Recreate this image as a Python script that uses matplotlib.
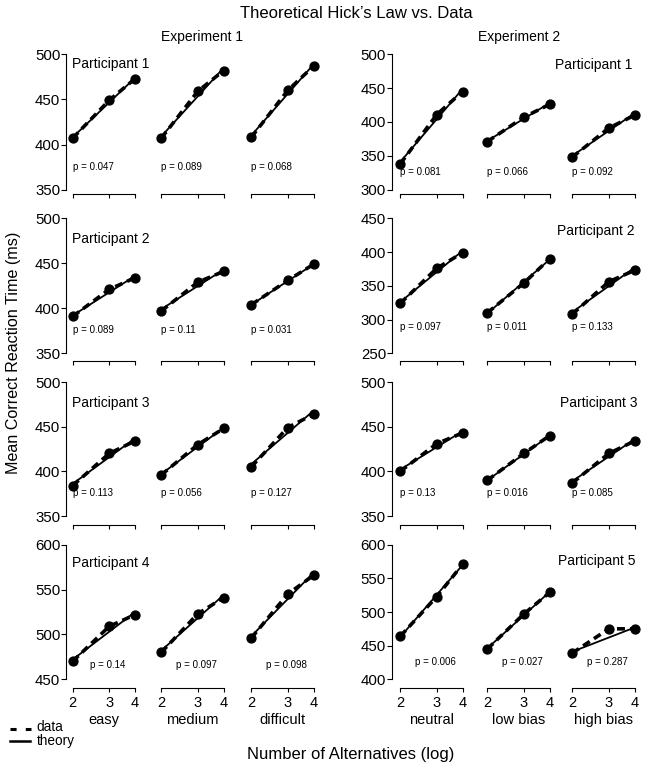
import matplotlib
matplotlib.use('Agg')
import matplotlib.pyplot as plt
from matplotlib.lines import Line2D
from matplotlib.ticker import NullLocator, NullFormatter

plt.rcParams['font.family'] = ['Liberation Sans', 'DejaVu Sans']

# ---------------- data ----------------
alternatives = [2, 3, 4]
theory_x = [2, 4]
exp1_conditions = ['easy', 'medium', 'difficult']
exp2_conditions = ['neutral', 'low bias', 'high bias']
exp1_participants = ['Participant 1', 'Participant 2', 'Participant 3', 'Participant 4']
exp2_participants = ['Participant 1', 'Participant 2', 'Participant 3', 'Participant 5']

# Experiment 1: per participant, per condition, mean RT at 2, 3, 4 alternatives
e1_p1_data = [[407, 449, 473], [407, 459, 482], [408, 460, 487]]
e1_p2_data = [[391, 421, 434], [397, 429, 441], [404, 431, 449]]
e1_p3_data = [[384, 420, 434], [396, 430, 448], [405, 449, 464]]
e1_p4_data = [[470, 509, 522], [480, 523, 541], [496, 545, 566]]
# theory line endpoints (2 and 4 alternatives)
e1_p1_theory = [[408, 474], [409, 485], [410, 489]]
e1_p2_theory = [[392, 436], [399, 443], [404, 449]]
e1_p3_theory = [[386, 437], [397, 449], [408, 468]]
e1_p4_theory = [[472, 525], [482, 544], [498, 569]]
e1_pvalues = [['0.047', '0.089', '0.068'],
              ['0.089', '0.11', '0.031'],
              ['0.113', '0.056', '0.127'],
              ['0.14', '0.097', '0.098']]

# Experiment 2
e2_p1_data = [[338, 411, 445], [371, 407, 426], [348, 391, 410]]
e2_p2_data = [[324, 376, 399], [310, 354, 390], [308, 356, 373]]
e2_p3_data = [[400, 431, 443], [390, 420, 440], [387, 420, 434]]
e2_p5_data = [[464, 523, 571], [445, 497, 529], [439, 475, 475]]
e2_p1_theory = [[341, 449], [372, 428], [350, 413]]
e2_p2_theory = [[326, 402], [309, 389], [311, 377]]
e2_p3_theory = [[402, 445], [390, 440], [389, 436]]
e2_p5_theory = [[463, 570], [446, 530], [441, 477]]
e2_pvalues = [['0.081', '0.066', '0.092'],
              ['0.097', '0.011', '0.133'],
              ['0.13', '0.016', '0.085'],
              ['0.006', '0.027', '0.287']]

e1_ylims = [(350, 500), (350, 500), (350, 500), (450, 600)]
e2_ylims = [(300, 500), (250, 450), (350, 500), (400, 600)]

groups = [
    dict(data=[e1_p1_data, e1_p2_data, e1_p3_data, e1_p4_data],
         theory=[e1_p1_theory, e1_p2_theory, e1_p3_theory, e1_p4_theory],
         pvals=e1_pvalues, ylims=e1_ylims, conds=exp1_conditions,
         parts=exp1_participants),
    dict(data=[e2_p1_data, e2_p2_data, e2_p3_data, e2_p5_data],
         theory=[e2_p1_theory, e2_p2_theory, e2_p3_theory, e2_p5_theory],
         pvals=e2_pvalues, ylims=e2_ylims, conds=exp2_conditions,
         parts=exp2_participants),
]

# ---------------- layout (pixels) ----------------
W, H = 649, 771
fig = plt.figure(figsize=(W / 100, H / 100), dpi=100)
PT = 0.72  # points per pixel at dpi 100

row_top = [54.3, 218.3, 382.0, 544.7]
row_bot = [189.6, 353.3, 516.0, 679.3]
xaxis_px = [193.8, 360.7, 525.3, 688.0]
col_x2 = [[72.7, 161.3, 251.3], [400.3, 487.3, 572.3]]
panel_w = 62.4
yaxis_px = [66.0, 391.7]

p_y = [[166.7, 330.0, 493.3, 665.0], [172.3, 326.7, 493.3, 662.3]]
part_pos = [[(71.7, 64.3), (71.7, 239.0), (71.7, 402.7), (71.7, 563.3)],
            [(632.0, 65.0), (635.0, 231.0), (637.0, 402.7), (635.0, 561.0)]]
part_ha = ['left', 'right']


def fx(x):
    return x / W


def fy(y):
    return 1 - y / H


for g, grp in enumerate(groups):
    for r in range(4):
        ymin, ymax = grp['ylims'][r]
        top, bot = row_top[r], row_bot[r]
        for c in range(3):
            x2 = col_x2[g][c]
            ax = fig.add_axes([fx(x2), fy(bot), panel_w / W, (bot - top) / H])
            ax.patch.set_alpha(0)
            ax.set_xscale('log')
            ax.set_xlim(2, 4)
            ax.set_ylim(ymin, ymax)
            ax.plot(theory_x, grp['theory'][r][c], color='black', lw=1.3,
                    solid_capstyle='butt', clip_on=False, zorder=2)
            ax.plot(alternatives, grp['data'][r][c], color='black', lw=2.6,
                    ls=(0, (2.2, 1.4)), marker='o', ms=6.4, clip_on=False, zorder=3)
            for s in ['top', 'right']:
                ax.spines[s].set_visible(False)
            ax.spines['bottom'].set_position(('outward', (xaxis_px[r] - bot) * PT))
            ax.spines['bottom'].set_bounds(2, 4)
            ax.spines['bottom'].set_linewidth(0.8)
            ax.set_xticks(alternatives)
            ax.xaxis.set_minor_locator(NullLocator())
            ax.xaxis.set_minor_formatter(NullFormatter())
            ax.tick_params(axis='x', length=4 * PT, width=0.8, pad=3.2,
                           labelsize=10.5)
            if r < 3:
                ax.set_xticklabels([])
            else:
                ax.set_xticklabels([str(v) for v in alternatives])
            if c == 0:
                ax.spines['left'].set_position(('outward', (x2 - yaxis_px[g]) * PT))
                ax.spines['left'].set_bounds(ymin, ymax)
                ax.spines['left'].set_linewidth(0.8)
                ax.set_yticks(list(range(ymin, ymax + 1, 50)))
                ax.tick_params(axis='y', length=5 * PT, width=0.8, pad=0.5,
                               labelsize=10.8)
            else:
                ax.spines['left'].set_visible(False)
                ax.set_yticks([])
            # p-value text
            pv = 'p = ' + grp['pvals'][r][c]
            if r < 3:
                fig.text(fx(x2), fy(p_y[g][r]), pv, fontsize=7, ha='left', va='center')
            else:
                fig.text(fx(x2 + 0.56 * panel_w), fy(p_y[g][r]), pv, fontsize=7,
                         ha='center', va='center')
            if r == 3:
                fig.text(fx(x2 + panel_w / 2), fy(720.0), grp['conds'][c],
                         fontsize=10.5, ha='center', va='center')
        px, py = part_pos[g][r]
        fig.text(fx(px), fy(py), grp['parts'][r], fontsize=10,
                 ha=part_ha[g], va='center')

# titles and labels
fig.text(fx(356), fy(13.5), 'Theoretical Hick\u2019s Law vs. Data', fontsize=12,
         ha='center', va='center')
fig.text(fx(202), fy(37.5), 'Experiment 1', fontsize=10, ha='center', va='center')
fig.text(fx(519), fy(37.5), 'Experiment 2', fontsize=10, ha='center', va='center')
fig.text(fx(351), fy(755), 'Number of Alternatives (log)', fontsize=12,
         ha='center', va='center')
fig.text(fx(14), fy(353), 'Mean Correct Reaction Time (ms)', fontsize=11.6,
         ha='center', va='center', rotation=90)

# legend
fig.add_artist(Line2D([fx(10), fx(31)], [fy(729.0)] * 2, color='black', lw=2.2,
                      ls=(0, (2.0, 3.0)), transform=fig.transFigure))
fig.add_artist(Line2D([fx(10), fx(30)], [fy(741.0)] * 2, color='black', lw=1.8,
                      transform=fig.transFigure))
fig.text(fx(36.5), fy(727.2), 'data', fontsize=9.8, ha='left', va='center')
fig.text(fx(36.5), fy(741.2), 'theory', fontsize=9.8, ha='left', va='center')

fig.savefig('out.png', dpi=100)
